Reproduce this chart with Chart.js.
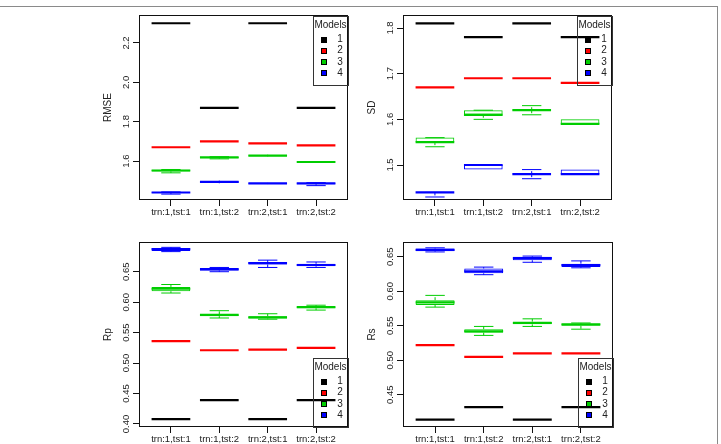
<!DOCTYPE html>
<html>
<head>
<meta charset="utf-8">
<script src="https://cdn.jsdelivr.net/npm/chart.js@4.4.1/dist/chart.umd.min.js"></script>
<style>
  html, body { margin: 0; padding: 0; background: #fff; }
  body { width: 721px; height: 444px; overflow: hidden; position: relative; }
  canvas { position: absolute; }
  #frame { position: absolute; left: -10px; top: 6px; width: 728px; height: 500px; border: 1px solid #8a8a8a; box-sizing: border-box; }
</style>
</head>
<body>
<div id="frame"></div>
<canvas id="rmse" width="270" height="225" style="left:90px;top:0px;width:270px;height:225px"></canvas>
<canvas id="sd" width="268" height="225" style="left:354px;top:0px;width:268px;height:225px"></canvas>
<canvas id="rp" width="270" height="225" style="left:90px;top:227px;width:270px;height:225px"></canvas>
<canvas id="rs" width="269" height="225" style="left:354px;top:227px;width:269px;height:225px"></canvas>
<script>
// boxplot stats per condition: [lower whisker, q1, median, q3, upper whisker]
const categories = ["trn:1,tst:1", "trn:1,tst:2", "trn:2,tst:1", "trn:2,tst:2"];
const models = ["1", "2", "3", "4"];
const modelColors = ["#000000", "#ff0000", "#00cd00", "#0000ff"];

const rmseModel1 = [[2.30, 2.30, 2.30, 2.30, 2.30], [1.87, 1.87, 1.87, 1.87, 1.87], [2.30, 2.30, 2.30, 2.30, 2.30], [1.87, 1.87, 1.87, 1.87, 1.87]];
const rmseModel2 = [[1.67, 1.67, 1.67, 1.67, 1.67], [1.70, 1.70, 1.70, 1.70, 1.70], [1.69, 1.69, 1.69, 1.69, 1.69], [1.68, 1.68, 1.68, 1.68, 1.68]];
const rmseModel3 = [[1.540, 1.547, 1.552, 1.556, 1.557], [1.611, 1.614, 1.619, 1.621, 1.622], [1.622, 1.624, 1.627, 1.630, 1.632], [1.590, 1.592, 1.595, 1.598, 1.600]];
const rmseModel4 = [[1.432, 1.437, 1.440, 1.442, 1.443], [1.487, 1.489, 1.494, 1.499, 1.501], [1.483, 1.484, 1.486, 1.488, 1.489], [1.475, 1.482, 1.486, 1.489, 1.490]];

const sdModel1 = [[1.81, 1.81, 1.81, 1.81, 1.81], [1.78, 1.78, 1.78, 1.78, 1.78], [1.81, 1.81, 1.81, 1.81, 1.81], [1.78, 1.78, 1.78, 1.78, 1.78]];
const sdModel2 = [[1.67, 1.67, 1.67, 1.67, 1.67], [1.69, 1.69, 1.69, 1.69, 1.69], [1.69, 1.69, 1.69, 1.69, 1.69], [1.68, 1.68, 1.68, 1.68, 1.68]];
const sdModel3 = [[1.54, 1.55, 1.55, 1.56, 1.56], [1.60, 1.61, 1.61, 1.62, 1.62], [1.61, 1.62, 1.62, 1.62, 1.63], [1.59, 1.59, 1.59, 1.60, 1.60]];
const sdModel4 = [[1.43, 1.44, 1.44, 1.44, 1.44], [1.49, 1.49, 1.50, 1.50, 1.50], [1.47, 1.48, 1.48, 1.48, 1.49], [1.48, 1.48, 1.48, 1.49, 1.49]];

const rpModel1 = [[0.408, 0.408, 0.408, 0.408, 0.408], [0.439, 0.439, 0.439, 0.439, 0.439], [0.408, 0.408, 0.408, 0.408, 0.408], [0.439, 0.439, 0.439, 0.439, 0.439]];
const rpModel2 = [[0.536, 0.536, 0.536, 0.536, 0.536], [0.521, 0.521, 0.521, 0.521, 0.521], [0.522, 0.522, 0.522, 0.522, 0.522], [0.525, 0.525, 0.525, 0.525, 0.525]];
const rpModel3 = [[0.615, 0.618, 0.622, 0.625, 0.629], [0.574, 0.577, 0.579, 0.580, 0.586], [0.572, 0.573, 0.575, 0.577, 0.581], [0.587, 0.590, 0.592, 0.593, 0.595]];
const rpModel4 = [[0.683, 0.684, 0.687, 0.689, 0.690], [0.650, 0.652, 0.654, 0.656, 0.657], [0.657, 0.662, 0.664, 0.666, 0.669], [0.657, 0.659, 0.661, 0.663, 0.666]];

const rsModel1 = [[0.414, 0.414, 0.414, 0.414, 0.414], [0.432, 0.432, 0.432, 0.432, 0.432], [0.414, 0.414, 0.414, 0.414, 0.414], [0.432, 0.432, 0.432, 0.432, 0.432]];
const rsModel2 = [[0.522, 0.522, 0.522, 0.522, 0.522], [0.505, 0.505, 0.505, 0.505, 0.505], [0.510, 0.510, 0.510, 0.510, 0.510], [0.510, 0.510, 0.510, 0.510, 0.510]];
const rsModel3 = [[0.577, 0.580, 0.584, 0.587, 0.594], [0.536, 0.540, 0.542, 0.545, 0.549], [0.549, 0.552, 0.554, 0.556, 0.560], [0.545, 0.550, 0.552, 0.553, 0.554]];
const rsModel4 = [[0.657, 0.658, 0.660, 0.662, 0.663], [0.624, 0.626, 0.629, 0.633, 0.635], [0.642, 0.645, 0.648, 0.650, 0.651], [0.634, 0.635, 0.638, 0.640, 0.644]];

const rmseTicks = [1.6, 1.8, 2.0, 2.2];
const rmseTickLabels = ["1.6", "1.8", "2.0", "2.2"];
const sdTicks = [1.5, 1.6, 1.7, 1.8];
const sdTickLabels = ["1.5", "1.6", "1.7", "1.8"];
const rpTicks = [0.40, 0.45, 0.50, 0.55, 0.60, 0.65];
const rpTickLabels = ["0.40", "0.45", "0.50", "0.55", "0.60", "0.65"];
const rsTicks = [0.45, 0.50, 0.55, 0.60, 0.65];
const rsTickLabels = ["0.45", "0.50", "0.55", "0.60", "0.65"];

const FONT = "'Liberation Sans', Arial, sans-serif";
const TEXT = "#222";

// medians, whiskers, staples, frame, rotated y labels, legend
const boxPlugin = {
  id: "boxExtras",
  afterDatasetsDraw(chart) {
    const ctx = chart.ctx;
    const x = chart.scales.x, y = chart.scales.y;
    ctx.save();
    chart.data.datasets.forEach((ds, di) => {
      const meta = chart.getDatasetMeta(di);
      ds.stats.forEach((s, i) => {
        const cx = x.getPixelForValue(i + 1);
        const w = meta.data[i].width;
        const [lo, q1, med, q3, hi] = s.map(v => y.getPixelForValue(v));
        ctx.strokeStyle = ds.borderColor;
        ctx.lineWidth = 1;
        ctx.setLineDash([3, 3]);
        ctx.beginPath();
        ctx.moveTo(cx, q1); ctx.lineTo(cx, lo);
        ctx.moveTo(cx, q3); ctx.lineTo(cx, hi);
        ctx.stroke();
        ctx.setLineDash([]);
        if (Math.abs(lo - q1) > 0.5 || Math.abs(hi - q3) > 0.5) {
          ctx.beginPath();
          ctx.moveTo(cx - w / 4, lo); ctx.lineTo(cx + w / 4, lo);
          ctx.moveTo(cx - w / 4, hi); ctx.lineTo(cx + w / 4, hi);
          ctx.stroke();
        }
        ctx.lineWidth = 2.2;
        ctx.beginPath();
        ctx.moveTo(cx - w / 2, med); ctx.lineTo(cx + w / 2, med);
        ctx.stroke();
      });
    });
    ctx.restore();
  },
  afterDraw(chart) {
    const ctx = chart.ctx;
    const a = chart.chartArea;
    const y = chart.scales.y;
    const cfg = chart.options.plugins.boxExtras;
    ctx.save();
    ctx.strokeStyle = "#111";
    ctx.lineWidth = 1;
    ctx.strokeRect(Math.round(a.left) + 0.5, Math.round(a.top) + 0.5, Math.round(a.right - a.left) - 1, Math.round(a.bottom - a.top) - 1);

    ctx.fillStyle = TEXT;
    ctx.font = "9.5px " + FONT;
    ctx.textAlign = "center";
    ctx.textBaseline = "middle";
    cfg.ticks.forEach((t, i) => {
      ctx.save();
      ctx.translate(a.left - 12.6, y.getPixelForValue(t));
      ctx.rotate(-Math.PI / 2);
      ctx.fillText(cfg.tickLabels[i], 0, 0);
      ctx.restore();
    });

    // legend
    const lw = 35, lh = 69;
    const lx = a.right - lw;
    const ly = cfg.legendAt === "top" ? a.top + 1 : a.bottom - lh;
    ctx.strokeStyle = "#333";
    ctx.strokeRect(Math.round(lx) + 0.5, Math.round(ly) + 0.5, lw, lh);
    ctx.font = "10px " + FONT;
    ctx.fillText("Models", lx + lw / 2, ly + 9);
    models.forEach((m, i) => {
      const ry = ly + 23.5 + i * 11.2;
      ctx.fillStyle = modelColors[i];
      ctx.fillRect(Math.round(lx + 8), Math.round(ry - 3), 6, 6);
      ctx.strokeStyle = "#000";
      ctx.strokeRect(Math.round(lx + 8) + 0.5, Math.round(ry - 3) + 0.5, 5, 5);
      ctx.fillStyle = TEXT;
      ctx.fillText(m, lx + 27, ry);
    });
    ctx.restore();
  }
};

function makePanel(id, title, series, ticks, tickLabels, yMin, yMax, padTop, padRight, legendAt) {
  const datasets = series.map((stats, mi) => ({
    label: models[mi],
    stats: stats,
    data: stats.map((s, i) => ({ x: i + 1, y: [s[1], s[3]] })),
    backgroundColor: "rgba(0,0,0,0)",
    borderColor: modelColors[mi],
    borderWidth: 1,
    borderSkipped: false,
    grouped: false,
    barPercentage: 0.8,
    categoryPercentage: 1.0
  }));

  new Chart(document.getElementById(id), {
    type: "bar",
    data: { datasets: datasets },
    options: {
      responsive: false,
      animation: false,
      devicePixelRatio: 1,
      layout: { padding: { top: padTop, right: padRight, left: 0, bottom: 0 } },
      plugins: {
        legend: { display: false },
        tooltip: { enabled: false },
        boxExtras: { ticks: ticks, tickLabels: tickLabels, legendAt: legendAt }
      },
      scales: {
        x: {
          type: "linear",
          offset: false,
          min: 0.34,
          max: 4.66,
          afterBuildTicks: s => { s.ticks = categories.map((c, i) => ({ value: i + 1 })); },
          afterFit: s => { s.height = 25; },
          border: { display: false },
          grid: { offset: false, drawOnChartArea: false, drawTicks: true, tickLength: 6, color: "#111" },
          ticks: {
            padding: 1,
            maxRotation: 0,
            autoSkip: false,
            color: TEXT,
            font: { family: FONT, size: 9.5 },
            callback: v => categories[v - 1]
          }
        },
        y: {
          min: yMin,
          max: yMax,
          afterBuildTicks: s => { s.ticks = ticks.map(v => ({ value: v })); },
          afterFit: s => { s.width = 49; },
          border: { display: false },
          grid: { drawOnChartArea: false, drawTicks: true, tickLength: 6, color: "#111" },
          ticks: { display: false },
          title: {
            display: true,
            text: title,
            color: TEXT,
            font: { family: FONT, size: 10, lineHeight: 1.2 },
            padding: { top: 12, bottom: 0 }
          }
        }
      }
    },
    plugins: [boxPlugin]
  });
}

makePanel("rmse", "RMSE", [rmseModel1, rmseModel2, rmseModel3, rmseModel4], rmseTicks, rmseTickLabels, 1.402, 2.342, 15, 12, "top");
makePanel("sd", "SD", [sdModel1, sdModel2, sdModel3, sdModel4], sdTicks, sdTickLabels, 1.4234, 1.8285, 15, 10, "top");
makePanel("rp", "Rp", [rpModel1, rpModel2, rpModel3, rpModel4], rpTicks, rpTickLabels, 0.395, 0.6988, 15, 12, "bottom");
makePanel("rs", "Rs", [rsModel1, rsModel2, rsModel3, rsModel4], rsTicks, rsTickLabels, 0.4032, 0.6714, 15, 10, "bottom");
</script>
</body>
</html>
